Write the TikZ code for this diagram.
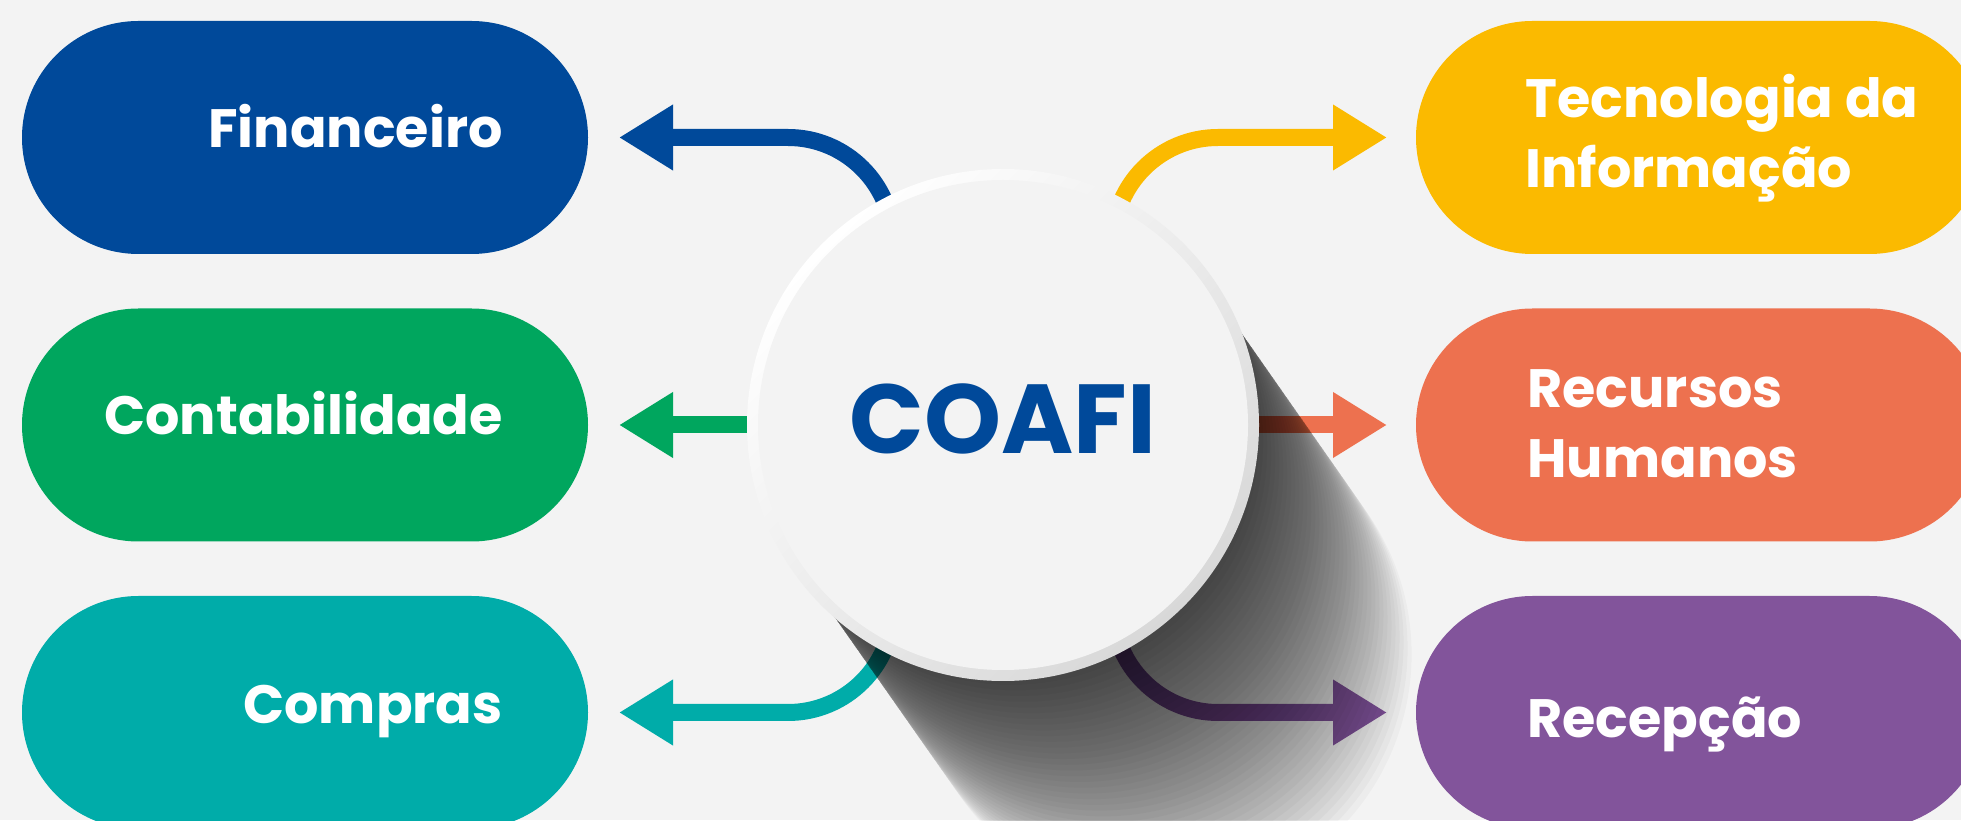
\documentclass[tikz,border=0pt]{standalone}
\usepackage{fontspec}
\setmainfont{Poppins}
\usepackage{tikz}
\usetikzlibrary{arrows.meta,positioning,shapes.misc}

\definecolor{bgGray}{HTML}{F3F3F3}
\definecolor{ringGray}{HTML}{D8D8D8}
\definecolor{cFin}{HTML}{00499A}
\definecolor{cCon}{HTML}{00A65E}
\definecolor{cCom}{HTML}{00ACA9}
\definecolor{cTI}{HTML}{FBBA00}
\definecolor{cRH}{HTML}{ED714F}
\definecolor{cRec}{HTML}{82549B}

\tikzset{
  %% Department pills
  ocPill/.style={rounded rectangle, fill=#1, draw=none, inner sep=0pt,
    minimum width=283pt, minimum height=116.5pt},
  ocTxt/.style={text=white, inner sep=0pt,
    font=\fontsize{27}{35}\selectfont\bfseries},
  %% Links from the hub
  ocLink/.style={draw=#1, line width=8.5pt,
    -{Triangle[length=27pt, width=31pt]}},
  %% Central hub
  ocHub/.style={circle, minimum size=256pt, inner sep=0pt,
    top color=white, bottom color=ringGray, shading angle=45},
  ocHubTxt/.style={text=cFin, inner sep=0pt,
    font=\fontsize{49}{55}\selectfont\bfseries},
}

\begin{document}
\begin{tikzpicture}[x=0.5pt, y=0.5pt]
\clip (0,0) rectangle (1961,820);
\fill[bgGray] (0,0) rectangle (1961,820);

%% Pills, left column
\node[ocPill=cFin] (pFin) at (305,682.5) {};
\node[ocPill=cCon] (pCon) at (305,395) {};
\node[ocPill=cCom] (pCom) at (305,107.5) {};
%% Pills, right column
\node[ocPill=cTI,  minimum width=285pt] (pTI)  at (1701,682.5) {};
\node[ocPill=cRH,  minimum width=285pt] (pRH)  at (1701,395) {};
\node[ocPill=cRec, minimum width=285pt] (pRec) at (1701,107.5) {};

%% Labels (base = last line)
\node[ocTxt, anchor=base east] (tFin) at (503,672) {Financeiro};
\node[ocTxt, anchor=base east] (tCon) at (503,385) {Contabilidade};
\node[ocTxt, anchor=base east] (tCom) at (503,97)  {Compras};
\node[ocTxt, anchor=base west, align=left] (tTI)  at (1525,632) {Tecnologia da\\Informação};
\node[ocTxt, anchor=base west, align=left] (tRH)  at (1527,342) {Recursos\\Humanos};
\node[ocTxt, anchor=base west] (tRec) at (1527,83)  {Recepção};

%% Link ends
\coordinate (hubC)    at (1003,395);
\coordinate (finFoot) at (893,577.5);
\coordinate (comFoot) at (893,212.5);
\coordinate (tiFoot)  at (1113,577.5);
\coordinate (recFoot) at (1113,212.5);
\coordinate (tipFin) at (619,682.5);
\coordinate (tipCon) at (619,395);
\coordinate (tipCom) at (619,107.5);
\coordinate (tipTI)  at (1387,682.5);
\coordinate (tipRH)  at (1387,395);
\coordinate (tipRec) at (1387,107.5);

%% Links
\draw[ocLink=cFin] (finFoot) arc[start angle=0, end angle=90, radius=105] -- (tipFin);
\draw[ocLink=cCon] (hubC) -- (tipCon);
\draw[ocLink=cCom] (comFoot) arc[start angle=0, end angle=-90, radius=105] -- (tipCom);
\draw[ocLink=cTI]  (tiFoot) arc[start angle=180, end angle=90, radius=105] -- (tipTI);
\draw[ocLink=cRH]  (hubC) -- (tipRH);
\draw[ocLink=cRec] (recFoot) arc[start angle=180, end angle=270, radius=105] -- (tipRec);

%% Long shadow of the hub (stacked, fades outwards)
\begin{scope}[shift={(hubC)}, rotate=-55]
\foreach \len in {7,14,...,280}
  \fill[black, fill opacity=0.026] (0,248) -- (\len,248)
    arc[start angle=90, end angle=-90, radius=248] -- (0,-248) -- cycle;
\end{scope}

%% Hub
\node[ocHub] (hub) at (hubC) {};
\fill[bgGray] (hub.center) circle[radius=245];
\node[ocHubTxt, anchor=base] (hubTxt) at (1003,366) {COAFI};

\end{tikzpicture}
\end{document}
